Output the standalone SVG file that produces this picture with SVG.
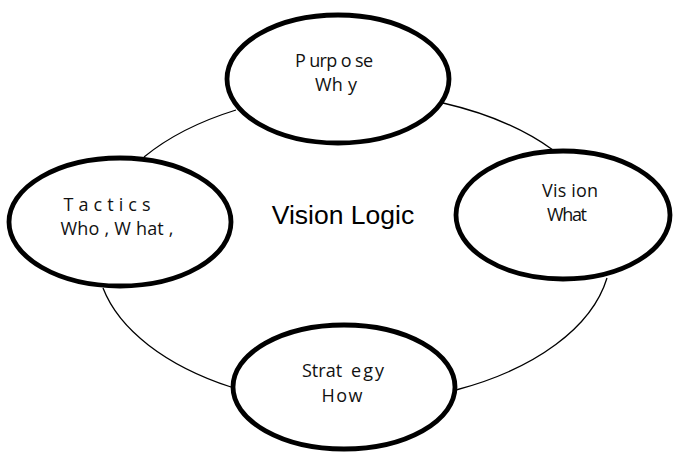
<svg xmlns="http://www.w3.org/2000/svg" width="673" height="453" viewBox="0 0 673 453">
<style>
.node{fill:#fff;stroke:#000;stroke-width:4.8}
.conn{fill:none;stroke:#000;stroke-width:1.3}
.lbl{font-family:"Liberation Sans Narrow","Open Sans",sans-serif;font-size:18px;fill:#111;text-anchor:middle}
.title{font-family:"Liberation Sans",Arial,sans-serif;font-size:26.5px;fill:#000;text-anchor:middle}
</style>
<rect width="673" height="453" fill="#fff"/>
<g id="connectors">
<path class="conn" d="M144,157 A268,152 0 0 1 236,110"/>
<path class="conn" d="M443,103 A268,152 0 0 1 553,150"/>
<path class="conn" d="M607,278 A268,152 0 0 1 456,390"/>
<path class="conn" d="M231,387 A268,152 0 0 1 103,288"/>
</g>
<text class="title" x="343" y="224">Vision Logic</text>
<g id="purpose">
<ellipse class="node" cx="338" cy="79" rx="111" ry="64"/>
<text class="lbl" x="334" y="67" textLength="78" lengthAdjust="spacing">P urp o se</text>
<text class="lbl" x="336" y="91" textLength="42" lengthAdjust="spacing">Wh y</text>
</g>
<g id="tactics">
<ellipse class="node" cx="120" cy="222" rx="111" ry="64"/>
<text class="lbl" x="107" y="211" textLength="87" lengthAdjust="spacing">Tactics</text>
<text class="lbl" x="117" y="235" textLength="113" lengthAdjust="spacing">Who , W hat ,</text>
</g>
<g id="vision">
<ellipse class="node" cx="563" cy="215" rx="107" ry="64"/>
<text class="lbl" x="570" y="197" textLength="56" lengthAdjust="spacing">Vis ion</text>
<text class="lbl" x="567" y="221" textLength="40" lengthAdjust="spacing">What</text>
</g>
<g id="strategy">
<ellipse class="node" cx="344" cy="387" rx="111" ry="62"/>
<text class="lbl" x="302" y="377" style="text-anchor:start">Strat<tspan dx="9" letter-spacing="2">egy</tspan></text>
<text class="lbl" x="342" y="402" textLength="41" lengthAdjust="spacing">How</text>
</g>
</svg>
